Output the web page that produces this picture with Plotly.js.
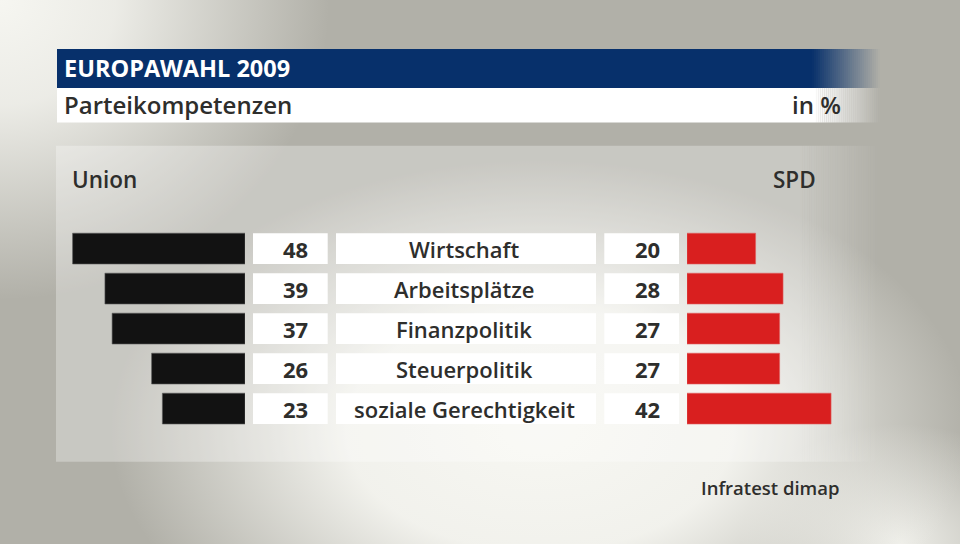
<!DOCTYPE html>
<html>
<head>
<meta charset="utf-8">
<script src="https://cdn.plot.ly/plotly-3.0.1.min.js"></script>
<style>
html,body{margin:0;padding:0;}
body{
  width:960px;height:544px;overflow:hidden;
  background:
    radial-gradient(ellipse 330px 300px at 0px 0px, rgba(246,246,241,1) 0%, rgba(246,246,241,0.85) 35%, rgba(246,246,241,0) 100%),
    radial-gradient(ellipse 430px 270px at 540px 430px, rgba(247,247,242,1) 0%, rgba(245,245,240,0.95) 45%, rgba(245,245,240,0) 100%),
    radial-gradient(ellipse 160px 120px at 900px 544px, rgba(245,245,240,0.9) 0%, rgba(245,245,240,0) 100%),
    #b1b0a8;
}
#chart{width:960px;height:544px;}
</style>
</head>
<body>
<div id="chart"></div>
<script>
// ---- data ----
const categories = ["Wirtschaft", "Arbeitsplätze", "Finanzpolitik", "Steuerpolitik", "soziale Gerechtigkeit"];
const unionValues = [48, 39, 37, 26, 23];
const spdValues = [20, 28, 27, 27, 42];
const leftLabel = "Union";
const rightLabel = "SPD";
const titleText = "EUROPAWAHL 2009";
const subtitleText = "Parteikompetenzen";
const unitText = "in %";
const sourceText = "Infratest dimap";

// ---- layout helpers ----
const W = 960, H = 544;
const px = x => x / W;
const py = y => 1 - y / H;
const FONT = "Open Sans";
const DARK = "#2e2e2c";

const halfBar = 0.385;

const traces = [
  {
    type: "bar", orientation: "h",
    y: categories, x: unionValues,
    xaxis: "x", yaxis: "y",
    width: 0.77,
    marker: {color: "#121212", line: {color: "#5a5a5a", width: 0.6}},
    hoverinfo: "skip"
  },
  {
    type: "bar", orientation: "h",
    y: categories, x: spdValues,
    xaxis: "x2", yaxis: "y",
    width: 0.77,
    marker: {color: "#d91f1f", line: {color: "#e06060", width: 0.6}},
    hoverinfo: "skip"
  }
];

const shapes = [];
const annotations = [];

// rectangles with a fade on the right
function fadedRect(x0, x1, y0, y1, color, opacity, fadeStart, fadeEnd) {
  shapes.push({type: "rect", xref: "paper", yref: "paper", layer: "below",
    x0: px(x0), x1: px(fadeStart), y0: py(y1), y1: py(y0),
    fillcolor: color, opacity: opacity, line: {width: 0}});
  const n = 34;
  const step = (fadeEnd - fadeStart) / n;
  for (let k = 0; k < n; k++) {
    shapes.push({type: "rect", xref: "paper", yref: "paper", layer: "below",
      x0: px(fadeStart + k * step), x1: px(fadeStart + (k + 1) * step),
      y0: py(y1), y1: py(y0),
      fillcolor: color, opacity: opacity * (1 - (k + 0.5) / n), line: {width: 0}});
  }
}
fadedRect(56, 880, 145.7, 461.7, "#ffffff", 0.3, 800, 880);
fadedRect(57, 880, 49, 88, "#07306b", 1, 812, 880);
fadedRect(57, 880, 88, 122.5, "#ffffff", 1, 815, 880);

// label boxes per row
categories.forEach((c, i) => {
  const boxes = [[253, 327.7], [336, 596], [604.3, 679]];
  boxes.forEach(b => {
    shapes.push({type: "rect", xref: "paper", yref: "y", layer: "below",
      x0: px(b[0]), x1: px(b[1]), y0: i - halfBar, y1: i + halfBar,
      fillcolor: "#ffffff", line: {width: 0}});
  });
  annotations.push({xref: "paper", yref: "y", x: px(309.5), y: c, xanchor: "right", yanchor: "middle",
    text: String(unionValues[i]), showarrow: false,
    font: {family: FONT, size: 22, color: DARK, weight: 700}});
  annotations.push({xref: "paper", yref: "y", x: px(464), y: c, xanchor: "center", yanchor: "middle",
    text: c, showarrow: false,
    font: {family: FONT, size: 22, color: DARK, weight: 600}});
  annotations.push({xref: "paper", yref: "y", x: px(661.5), y: c, xanchor: "right", yanchor: "middle",
    text: String(spdValues[i]), showarrow: false,
    font: {family: FONT, size: 22, color: DARK, weight: 700}});
});

// header texts
annotations.push({xref: "paper", yref: "paper", x: px(62), y: py(68), xanchor: "left", yanchor: "middle",
  text: titleText, showarrow: false, font: {family: FONT, size: 23.5, color: "#ffffff", weight: 700}});
annotations.push({xref: "paper", yref: "paper", x: px(62), y: py(105), xanchor: "left", yanchor: "middle",
  text: subtitleText, showarrow: false, font: {family: FONT, size: 24, color: DARK, weight: 600}});
annotations.push({xref: "paper", yref: "paper", x: px(843), y: py(105), xanchor: "right", yanchor: "middle",
  text: unitText, showarrow: false, font: {family: FONT, size: 24, color: DARK, weight: 600}});
annotations.push({xref: "paper", yref: "paper", x: px(70), y: py(179), xanchor: "left", yanchor: "middle",
  text: leftLabel, showarrow: false, font: {family: FONT, size: 22.5, color: DARK, weight: 600}});
annotations.push({xref: "paper", yref: "paper", x: px(818), y: py(179), xanchor: "right", yanchor: "middle",
  text: rightLabel, showarrow: false, font: {family: FONT, size: 22.5, color: DARK, weight: 600}});
annotations.push({xref: "paper", yref: "paper", x: px(699), y: py(487), xanchor: "left", yanchor: "middle",
  text: sourceText, showarrow: false, font: {family: FONT, size: 18.5, color: DARK, weight: 600}});

const s1 = 172.4 / 48;  // px per unit (Union)
const s2 = 68.6 / 20;   // px per unit (SPD)
const rowCenter = 248.6, pitch = 40;

const layout = {
  width: W, height: H,
  margin: {l: 0, r: 0, t: 0, b: 0, pad: 0},
  paper_bgcolor: "rgba(0,0,0,0)",
  plot_bgcolor: "rgba(0,0,0,0)",
  showlegend: false,
  barmode: "overlay",
  xaxis: {domain: [0, px(245)], range: [245 / s1, 0], visible: false, fixedrange: true},
  xaxis2: {domain: [px(687), 1], range: [0, (W - 687) / s2], visible: false, fixedrange: true, anchor: "y"},
  yaxis: {type: "category", categoryarray: categories, categoryorder: "array",
    range: [(H - rowCenter) / pitch, -rowCenter / pitch], visible: false, fixedrange: true},
  shapes: shapes,
  annotations: annotations
};

Plotly.newPlot("chart", traces, layout, {displayModeBar: false, staticPlot: true});
</script>
</body>
</html>
